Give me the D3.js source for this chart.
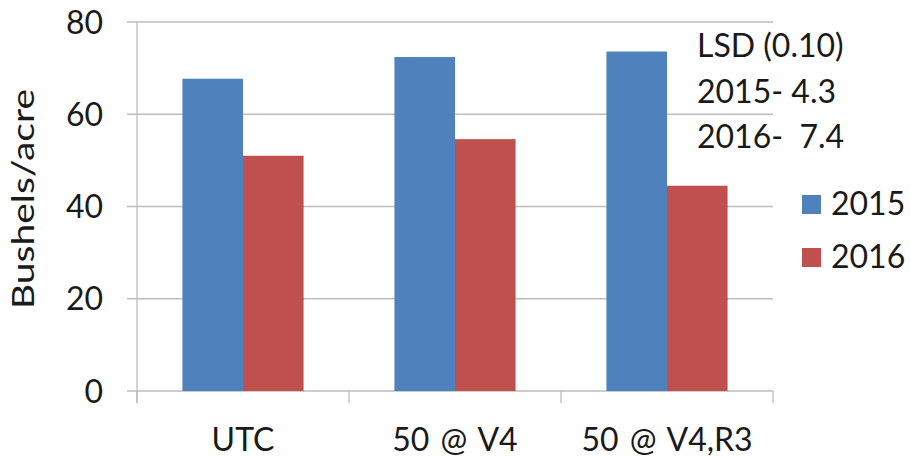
<!DOCTYPE html>
<html><head><meta charset="utf-8">
<script src="https://cdn.jsdelivr.net/npm/d3@7"></script>
<style>body{margin:0;background:#fff}svg{display:block}text{font-family:Lato,"Open Sans",sans-serif;fill:#1a1a1a}</style>
</head><body>
<svg id="c" width="911" height="457"></svg>
<script>
const categories = ["UTC", "50 @ V4", "50 @ V4,R3"];
const seriesNames = ["2015", "2016"];
const values2015 = [67.7, 72.4, 73.6];
const values2016 = [51.0, 54.6, 44.5];
const yTicks = [0, 20, 40, 60, 80];
const noteLines = ["LSD (0.10)", "2015- 4.3", "2016-  7.4"];
const colors = ["#4F81BD", "#C0504D"];

(function () {
const svg = d3.select("#c");
const pl = 137, pr = 773, pt = 22, pb = 391;
const x = d3.scaleBand().domain(categories).range([pl, pr]);
const y = d3.scaleLinear().domain([0, 80]).range([pb, pt]);
const inner = d3.scaleBand().domain(seriesNames).range([0, x.bandwidth()]).paddingInner(0).paddingOuter(0.75);

// gridlines
svg.append("g").selectAll("line").data(yTicks).join("line")
  .attr("x1", pl - 10).attr("x2", pr)
  .attr("y1", d => y(d)).attr("y2", d => y(d))
  .attr("stroke", "#bdbdbd").attr("stroke-width", 1.3);

// y tick labels
svg.append("g").selectAll("text").data(yTicks).join("text")
  .attr("x", 103).attr("y", d => y(d)).attr("dy", "0.36em")
  .attr("text-anchor", "end").attr("font-size", 32).text(d => d);

// bars
const data = categories.map((c, i) => ({c, v: [values2015[i], values2016[i]]}));
const g = svg.append("g");
data.forEach(d => {
  seriesNames.forEach((s, j) => {
    g.append("rect")
      .attr("x", x(d.c) + inner(s)).attr("width", inner.bandwidth())
      .attr("y", y(d.v[j])).attr("height", y(0) - y(d.v[j]))
      .attr("fill", colors[j]);
  });
});

// axes lines
svg.append("line").attr("x1", pl).attr("x2", pl).attr("y1", pt).attr("y2", pb + 12)
  .attr("stroke", "#bdbdbd").attr("stroke-width", 1.3);
const tickXs = categories.map(c => x(c)).concat([pr]);
svg.append("g").selectAll("line").data(tickXs).join("line")
  .attr("x1", d => d).attr("x2", d => d).attr("y1", pb).attr("y2", pb + 12)
  .attr("stroke", "#bdbdbd").attr("stroke-width", 1.3);

// x labels
svg.append("g").selectAll("text").data(categories).join("text")
  .attr("x", d => x(d) + x.bandwidth() / 2).attr("y", 451)
  .attr("text-anchor", "middle").attr("font-size", 32).style("word-spacing", "3px").text(d => d);

// y title
svg.append("text").attr("transform", "translate(34,199) rotate(-90)")
  .attr("text-anchor", "middle").attr("font-size", 31)
  .attr("textLength", 220).attr("lengthAdjust", "spacingAndGlyphs").text("Bushels/acre");

// note
svg.append("g").selectAll("text").data(noteLines).join("text")
  .attr("x", 697).attr("y", (d, i) => 57 + i * 45.5)
  .attr("font-size", 32).style("white-space", "pre").text(d => d);

// legend
const leg = svg.append("g");
seriesNames.forEach((s, j) => {
  leg.append("rect").attr("x", 802).attr("y", 195 + j * 53).attr("width", 19).attr("height", 19).attr("fill", colors[j]);
  leg.append("text").attr("x", 831).attr("y", 215 + j * 53).attr("font-size", 32).text(s);
});
})();
</script>
</body></html>
